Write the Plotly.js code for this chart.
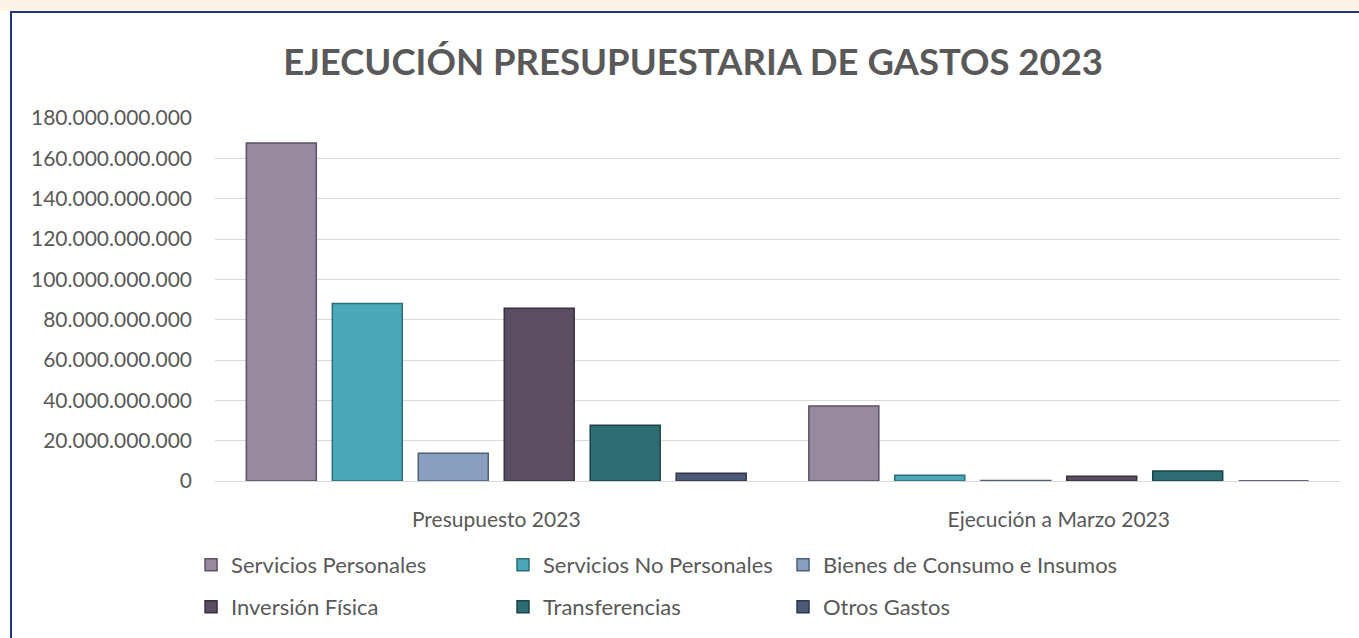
<!DOCTYPE html>
<html>
<head>
<meta charset="utf-8">
<script src="https://cdn.plot.ly/plotly-3.0.1.min.js"></script>
<style>
  html, body { margin: 0; padding: 0; background: #ffffff; }
  #chart { width: 1359px; height: 638px; }
  /* frame of the slide box */
  #frame {
    position: absolute; left: 10px; top: 11px; width: 1349px; height: 627px;
    border-top: 2px solid #1f3a78; border-left: 2px solid #1f3a78;
    pointer-events: none;
  }
  #band { position: absolute; left: 0; top: 0; width: 1359px; height: 11px; background: #fdf4e8; }
</style>
</head>
<body>
<div id="band"></div>
<div id="chart"></div>
<div id="frame"></div>
<script>
// categories on the x axis
const categories = ["Presupuesto 2023", "Ejecución a Marzo 2023"];

// one array per spending type (values in Gs.)
const serviciosPersonales = [167.6e9, 37.2e9];
const serviciosNoPersonales = [88.0e9, 2.8e9];
const bienesConsumo = [13.8e9, 0.3e9];
const inversionFisica = [85.7e9, 2.3e9];
const transferencias = [27.7e9, 4.9e9];
const otrosGastos = [3.8e9, 0];

const seriesNames = [
  "Servicios Personales",
  "Servicios No Personales",
  "Bienes de Consumo e Insumos",
  "Inversión Física",
  "Transferencias",
  "Otros Gastos",
];
const seriesValues = [
  serviciosPersonales,
  serviciosNoPersonales,
  bienesConsumo,
  inversionFisica,
  transferencias,
  otrosGastos,
];
const fillColors = ["#978a9f", "#4aa8b8", "#8a9fbf", "#5b4e62", "#2e6c74", "#4c5a78"];
const edgeColors = ["#5c5064", "#2c6e7a", "#4e5f7e", "#3a3040", "#1a4248", "#2c3650"];

const gray = "#595959";
const font = "Lato, 'Open Sans', sans-serif";

// legend grid: 3 columns x 2 rows, one small legend per series
const legendCols = [-0.0213, 0.256, 0.5049];
const legendRows = [-0.228, -0.343];

const data = seriesNames.map((name, i) => ({
  type: "bar",
  name,
  x: categories,
  y: seriesValues[i],
  marker: { color: fillColors[i], line: { color: edgeColors[i], width: 1.5 } },
  legend: i === 0 ? "legend" : "legend" + (i + 1),
}));

const layout = {
  width: 1359,
  height: 638,
  margin: { l: 215, r: 19, t: 118, b: 156 },
  paper_bgcolor: "rgba(0,0,0,0)",
  plot_bgcolor: "rgba(0,0,0,0)",
  showlegend: true,
  title: {
    text: "<b>EJECUCIÓN PRESUPUESTARIA DE GASTOS 2023</b>",
    font: { family: font, size: 36.5, color: gray },
    x: 0.51,
    xanchor: "center",
    y: 0.902,
    yanchor: "middle",
  },
  separators: ",.",
  barmode: "group",
  bargap: 0.083,
  bargroupgap: 0.186,
  xaxis: {
    showgrid: false,
    showline: true,
    linecolor: "#d9d9d9",
    linewidth: 1,
    ticks: "",
    ticklabelstandoff: 20,
    tickfont: { family: font, size: 21, color: gray },
  },
  yaxis: {
    range: [0, 180e9],
    tick0: 0,
    dtick: 20e9,
    tickformat: ",.0f",
    gridcolor: "#d9d9d9",
    gridwidth: 1,
    zeroline: true,
    zerolinecolor: "#d9d9d9",
    showline: false,
    ticks: "",
    ticklabelstandoff: 22,
    tickfont: { family: font, size: 21, color: gray },
  },
};

seriesNames.forEach((name, i) => {
  const key = i === 0 ? "legend" : "legend" + (i + 1);
  layout[key] = {
    orientation: "h",
    x: legendCols[i % 3],
    xanchor: "left",
    y: legendRows[Math.floor(i / 3)],
    yanchor: "middle",
    font: { family: font, size: 22, color: gray },
    bgcolor: "rgba(0,0,0,0)",
  };
});

Plotly.newPlot("chart", data, layout, { displayModeBar: false });
</script>
</body>
</html>
